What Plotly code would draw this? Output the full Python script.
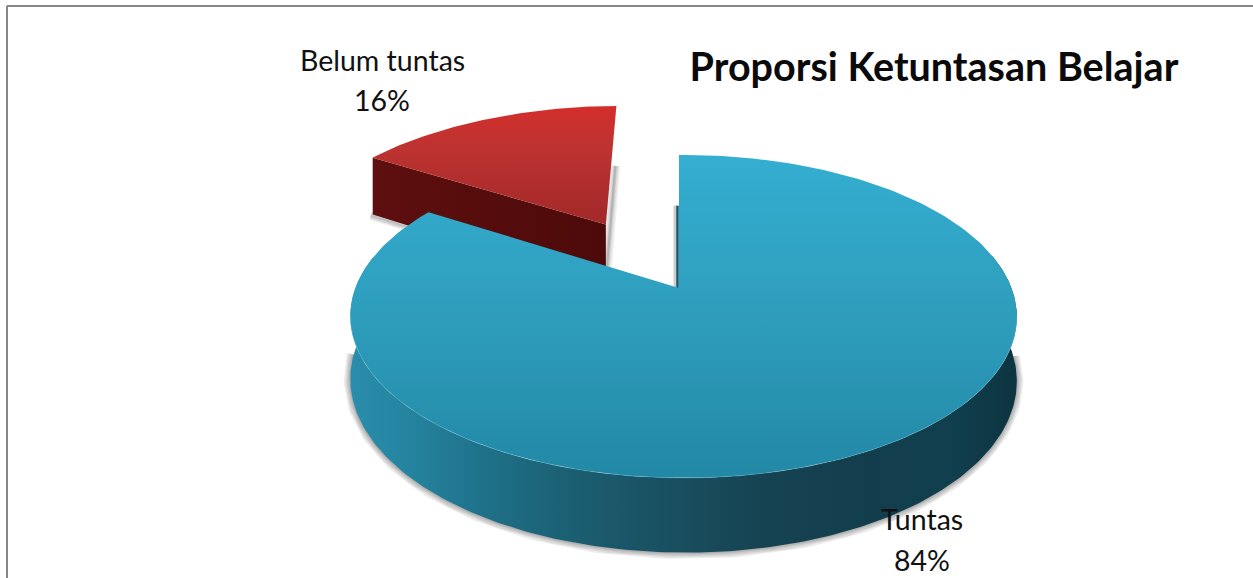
import numpy as np
import plotly.graph_objects as go

categories = ["Tuntas", "Belum tuntas"]
shares = [84, 16]
chart_title = "Proporsi Ketuntasan Belajar"

WIDTH, HEIGHT = 1253, 578
FONT = "Lato"
TEXT = "#111111"

# Perspective projection of the unit disc lying on the chart floor
APEX_X, APEX_Y = 679.0, 288.0
SCALE_X, SCALE_Y = 328.0, 156.5
TILT_Y, TILT_X = 0.176, -0.0135
DEPTH = 61.5
EXPLODE = 0.5
SMALL_RADIUS = 1.03
SMALL_DEPTH = 1.1


def project(px, py, drop=0.0):
    w = 1 + TILT_Y * py + TILT_X * px
    return APEX_X + SCALE_X * px / w, APEX_Y - SCALE_Y * py / w + drop * DEPTH / w


def arc(a0, a1, n=240):
    t = np.radians(np.linspace(a0, a1, n))
    return np.sin(t), np.cos(t)


def polygon(name, xs, ys, kind, stops, start, stop):
    return go.Scatter(
        x=xs, y=ys, mode="lines", name=name, fill="toself",
        line=dict(width=0), hoverinfo="skip", showlegend=False,
        fillgradient=dict(type=kind, colorscale=stops, start=start, stop=stop),
    )


def stroke(xs, ys, color, width):
    return go.Scatter(
        x=xs, y=ys, mode="lines", line=dict(color=color, width=width),
        hoverinfo="skip", showlegend=False,
    )


split = 360 * shares[0] / sum(shares)
fig = go.Figure()

# Wedge angles come from the two shares
bx, by = arc(0, split)
mid = np.radians((split + 360) / 2)
ox, oy = EXPLODE * np.sin(mid), EXPLODE * np.cos(mid)
rx, ry = arc(split, 360, 60)
rx, ry = rx * SMALL_RADIUS, ry * SMALL_RADIUS

# Soft shadow under the rim of the large wedge
sx, sy = arc(92, 268)
sil_x, sil_y = project(sx, sy, 1.0)
for w in (13, 10, 7, 4, 2):
    fig.add_trace(stroke(sil_x, sil_y, "rgba(40,40,40,0.09)", w))

# Small wedge: shadow, outer wall, top face
red_in = np.array([ox, ox + SMALL_RADIUS * np.sin(np.radians(split))])
red_out = np.array([oy, oy + SMALL_RADIUS * np.cos(np.radians(split))])
tip_x, tip_y = project(ox, oy)
end_x, end_y = project(ox, oy + SMALL_RADIUS)
for w, alpha in ((10, 0.07), (7, 0.09), (4, 0.12), (2, 0.14)):
    fig.add_trace(stroke([end_x - 1, tip_x + 1], [end_y + 60, tip_y + 44],
                         f"rgba(50,50,50,{alpha})", w))
wall_top_x, wall_top_y = project(red_in, red_out)
wall_low_x, wall_low_y = project(red_in, red_out, SMALL_DEPTH)
for w in (8, 5, 2):
    fig.add_trace(stroke(wall_low_x - 2, wall_low_y + 1, "rgba(60,60,60,0.12)", w))
fig.add_trace(polygon(
    categories[1] + " wall",
    np.r_[wall_top_x, wall_low_x[::-1]], np.r_[wall_top_y, wall_low_y[::-1]],
    "horizontal", [[0, "#5e0f0f"], [0.5, "#560c0c"], [1, "#4c0a0a"]],
    float(wall_top_x.min()), float(wall_top_x.max()),
))
top_x, top_y = project(np.r_[ox, ox + rx], np.r_[oy, oy + ry])
fig.add_trace(polygon(
    categories[1],
    np.r_[top_x, top_x[0]], np.r_[top_y, top_y[0]],
    "vertical", [[0, "#d32e2b"], [0.35, "#bd3331"], [1, "#a22828"]],
    float(top_y.min()), float(top_y.max()),
))

# Large wedge: rim, thin inner wall, top face
rim_x, rim_y = arc(78, 282)
up_x, up_y = project(rim_x, rim_y)
low_x, low_y = project(rim_x, rim_y, 1.0)
fig.add_trace(polygon(
    categories[0] + " rim",
    np.r_[up_x, low_x[::-1]], np.r_[up_y, low_y[::-1]],
    "horizontal",
    [[0, "#2a8dab"], [0.08, "#2585a1"], [0.2, "#1f7189"], [0.32, "#1b6073"],
     [0.45, "#195263"], [0.62, "#164352"], [0.78, "#123d4c"], [0.9, "#113f4e"],
     [1, "#0d3440"]],
    float(up_x.min()), float(up_x.max()),
))
edge_x, edge_y = project(np.array([0.0, 0.0]), np.array([0.0, 0.58]))
fig.add_trace(stroke(edge_x - 4, edge_y, "rgba(90,90,90,0.3)", 3))
fig.add_trace(stroke(edge_x - 1.5, edge_y, "#14566e", 2.5))
face_x, face_y = project(np.r_[0.0, bx], np.r_[0.0, by])
fig.add_trace(polygon(
    categories[0],
    np.r_[face_x, face_x[0]], np.r_[face_y, face_y[0]],
    "vertical", [[0, "#34aed1"], [0.5, "#2e9dbc"], [1, "#2288a6"]],
    float(face_y.min()), float(face_y.max()),
))
hx, hy = arc(100, 260)
hl_x, hl_y = project(hx, hy)
fig.add_trace(stroke(hl_x, hl_y, "rgba(120,205,225,0.3)", 1))


def label(text, x, y):
    return dict(text=text, x=x, y=y, xref="x", yref="y", showarrow=False,
                xanchor="center", yanchor="middle",
                font=dict(family=FONT, size=28.5, color=TEXT))


fig.update_layout(
    width=WIDTH, height=HEIGHT, autosize=False,
    margin=dict(l=0, r=0, t=0, b=0),
    paper_bgcolor="white", plot_bgcolor="white", showlegend=False,
    xaxis=dict(range=[0, WIDTH], visible=False, fixedrange=True),
    yaxis=dict(range=[HEIGHT, 0], visible=False, fixedrange=True),
    title=dict(text=f"<b>{chart_title}</b>", x=934 / WIDTH, y=1 - 67 / HEIGHT,
               xanchor="center", yanchor="middle",
               font=dict(family=FONT, size=39.5, color="#0a0a0a")),
    annotations=[
        label(categories[1], 382, 60),
        label(f"{shares[1]}%", 382, 100),
        label(categories[0], 922, 519),
        label(f"{shares[0]}%", 922, 560),
    ],
    shapes=[
        dict(type="line", xref="x", yref="y", x0=7, x1=WIDTH, y0=6, y1=6,
             line=dict(color="#868686", width=2)),
        dict(type="line", xref="x", yref="y", x0=7, x1=7, y0=6, y1=HEIGHT,
             line=dict(color="#868686", width=2)),
    ],
)

fig.write_html("out.html", config=dict(displayModeBar=False))
